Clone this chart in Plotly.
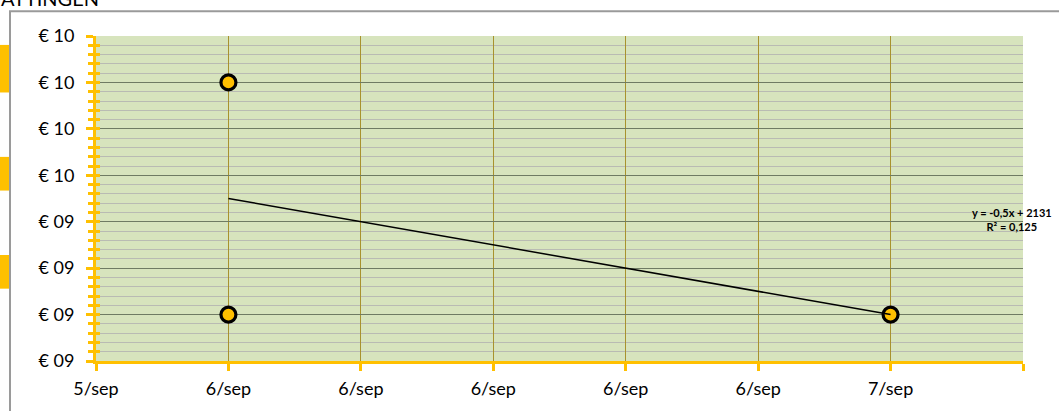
import numpy as np
import pandas as pd
import plotly.graph_objects as go

# ---- data ----
dates = ["2016-09-06", "2016-09-06", "2016-09-07"]
prices = [10.0, 9.0, 9.0]

x_tick_values = ["2016-09-05 19:12", "2016-09-06 00:00", "2016-09-06 04:48",
                 "2016-09-06 09:36", "2016-09-06 14:24", "2016-09-06 19:12",
                 "2016-09-07 00:00", "2016-09-07 04:48"]
x_tick_labels = ["5/sep", "6/sep", "6/sep", "6/sep", "6/sep", "6/sep", "7/sep", ""]
y_tick_values = [8.8, 9.0, 9.2, 9.4, 9.6, 9.8, 10.0, 10.2]
y_tick_labels = ["€ 09", "€ 09", "€ 09", "€ 09", "€ 10", "€ 10", "€ 10", "€ 10"]
trend_text = "y = -0,5x + 2131<br>R² = 0,125"
title_text = "ATTINGEN"

# ---- trendline (least squares on day numbers) ----
dt = pd.to_datetime(dates)
days = (dt - dt.min()).total_seconds().to_numpy() / 86400.0
slope, intercept = np.polyfit(days, prices, 1)
tx = [dt.min(), dt.max()]
ty = [intercept, slope * ((dt.max() - dt.min()).total_seconds() / 86400.0) + intercept]

W, H = 1059, 411
ML, MR, MT, MB = 96, 36, 36, 47
def px(x):
    return (x - ML) / (W - ML - MR)
def py(y):
    return 1 - (y - MT) / (H - MT - MB)

ORANGE = "#FFC000"
font = "Lato, 'Open Sans', sans-serif"

fig = go.Figure()
fig.add_trace(go.Scatter(
    x=dates, y=prices, mode="markers",
    marker=dict(size=15, color=ORANGE, line=dict(color="black", width=3.2)),
    showlegend=False, hoverinfo="skip"))
fig.add_trace(go.Scatter(
    x=tx, y=ty, mode="lines", line=dict(color="black", width=1.5),
    showlegend=False, hoverinfo="skip"))
# overlay axis for inside ticks (cross ticks)
fig.add_trace(go.Scatter(x=[dates[0]], y=[prices[0]], yaxis="y2", mode="markers",
                         marker=dict(opacity=0), showlegend=False, hoverinfo="skip"))

fig.update_layout(
    width=W, height=H, autosize=False,
    margin=dict(l=ML, r=MR, t=MT, b=MB, pad=0),
    paper_bgcolor="white", plot_bgcolor="#D7E4BD",
    font=dict(family=font, size=18, color="black"),
    xaxis=dict(
        type="date", range=[x_tick_values[0], x_tick_values[-1]],
        tickmode="array", tickvals=x_tick_values, ticktext=x_tick_labels,
        showgrid=True, gridcolor="#A8922E", gridwidth=1.2,
        showline=True, linecolor=ORANGE, linewidth=3,
        ticks="outside", ticklen=7, tickcolor=ORANGE, tickwidth=3,
        zeroline=False, tickfont=dict(size=18), ticklabelstandoff=2,
    ),
    yaxis=dict(
        range=[8.8, 10.2], tickmode="array", tickvals=y_tick_values,
        ticktext=y_tick_labels,
        showgrid=True, gridcolor="#6F7B63", gridwidth=1.3,
        showline=True, linecolor=ORANGE, linewidth=3,
        ticks="outside", ticklen=7, tickcolor=ORANGE, tickwidth=3,
        zeroline=False, ticklabelstandoff=8, tickfont=dict(size=18),
        minor=dict(dtick=0.04, tick0=8.8, showgrid=True, gridcolor="#B9BBB3",
                   gridwidth=1.3, ticks="outside", ticklen=5,
                   tickcolor=ORANGE, tickwidth=3),
    ),
    yaxis2=dict(
        overlaying="y", side="left", range=[8.8, 10.2],
        tickmode="array", tickvals=y_tick_values, showticklabels=False,
        showgrid=False, zeroline=False, showline=False,
        ticks="inside", ticklen=4, tickcolor=ORANGE, tickwidth=3,
        minor=dict(dtick=0.04, tick0=8.8, ticks="inside", ticklen=4,
                   tickcolor=ORANGE, tickwidth=3),
    ),
    annotations=[
        dict(text=trend_text, xref="paper", yref="paper", x=px(1012), y=py(221),
             xanchor="center", yanchor="middle", showarrow=False, align="center",
             font=dict(size=11, family=font, color="black", weight="bold")),
        dict(text=title_text, xref="paper", yref="paper", x=px(101), y=py(12),
             xanchor="right", yanchor="bottom", showarrow=False,
             font=dict(size=20, family=font, color="black")),
    ],
    shapes=[
        dict(type="rect", xref="paper", yref="paper", x0=px(10), x1=px(1070),
             y0=py(11), y1=py(420), line=dict(color="#9A9A9A", width=2),
             fillcolor="rgba(0,0,0,0)", layer="below"),
        dict(type="rect", xref="paper", yref="paper", x0=px(-2), x1=px(9),
             y0=py(45), y1=py(93), line=dict(width=0), fillcolor=ORANGE, layer="below"),
        dict(type="rect", xref="paper", yref="paper", x0=px(-2), x1=px(9),
             y0=py(158), y1=py(192), line=dict(width=0), fillcolor=ORANGE, layer="below"),
        dict(type="rect", xref="paper", yref="paper", x0=px(-2), x1=px(9),
             y0=py(257), y1=py(291), line=dict(width=0), fillcolor=ORANGE, layer="below"),
    ],
)

fig.write_html("out.html", config={"displayModeBar": False},
               post_script="document.body.style.margin='0';document.body.style.padding='0';document.body.style.overflow='hidden';")
